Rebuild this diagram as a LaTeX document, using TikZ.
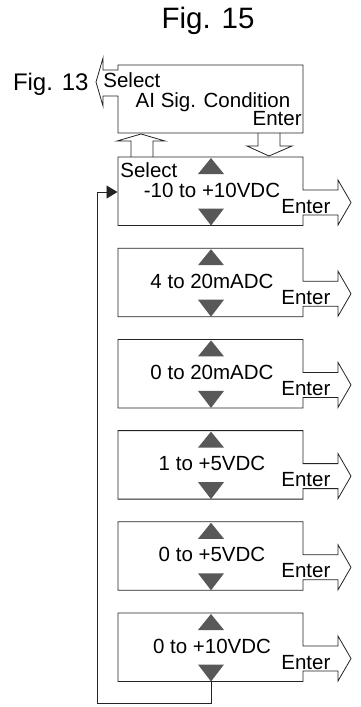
\documentclass[tikz,border=0pt]{standalone}
\usepackage{fontspec}
\setmainfont{Liberation Sans}
\usetikzlibrary{arrows.meta}
\definecolor{tricol}{RGB}{88,88,88}
\definecolor{linecol}{RGB}{35,35,35}
\begin{document}
\begin{tikzpicture}[x=1pt,y=-1pt, line width=0.8pt, line join=miter,
  every path/.style={draw=linecol},
  lbl/.style={inner sep=0pt, text=black, font=\fontsize{20.5}{24}\selectfont},
  big/.style={inner sep=0pt, text=black, font=\fontsize{29.5}{34}\selectfont}]
\useasboundingbox[draw=none] (0,0) rectangle (361,707);

% title
\node[big, anchor=base] (title) at (208,28) {Fig. 15};

% top box with left arrow
\draw (118,70) -- (118,65) -- (303,65) -- (303,133) -- (118,133) -- (118,96)
  -- (103,96) -- (103,106) -- (96,82) -- (103,58) -- (103,70) -- cycle;
\node[lbl, anchor=base east, font=\fontsize{24}{28}\selectfont] (fig13) at (89,90) {Fig. 13};
\node[lbl, anchor=base west] (tsel) at (103,87) {Select};
\node[lbl, anchor=base] (tname) at (213,107) {AI Sig. Condition};
\node[lbl, anchor=base east] (tent) at (302,125) {Enter};

% up and down hollow arrows between top box and first option
\draw (131,157) -- (131,141) -- (117,141) -- (141,134) -- (165,141) -- (153,141) -- (153,157);
\draw (258,133) -- (258,146) -- (247,146) -- (269,156) -- (292,146) -- (280,146) -- (280,133);

% option boxes
\foreach \i/\t in {0/{-10 to +10VDC},1/{4 to 20mADC},2/{0 to 20mADC},3/{1 to +5VDC},4/{0 to +5VDC},5/{0 to +10VDC}} {
  \pgfmathsetmacro\T{157+91.2*\i}
  \draw (118,\T) -- (303,\T) -- (303,\T+33) -- (338,\T+33) -- (338,\T+23)
    -- (351,\T+45.5) -- (338,\T+68) -- (338,\T+58) -- (303,\T+58)
    -- (303,\T+68.5) -- (118,\T+68.5) -- cycle;
  \fill[tricol, draw=none] (198,\T+17) -- (224,\T+17) -- (211,\T+1) -- cycle;
  \fill[tricol, draw=none] (198,\T+51.5) -- (224,\T+51.5) -- (211,\T+68.5) -- cycle;
  \node[lbl, anchor=base] (opt\i) at (212,\T+40) {\t};
  \node[lbl, anchor=base west] (ent\i) at (281,\T+56) {Enter};
  \coordinate (b\i) at (211,\T+68.5);
}
\node[lbl, anchor=base west] (osel) at (120,177) {Select};

% feedback loop
\coordinate (in0) at (117.5,192);
\coordinate (bot) at (97,703);
\draw[-{Triangle[length=11pt,width=13pt]}] (b5) |- (bot) |- (in0);
\end{tikzpicture}
\end{document}
